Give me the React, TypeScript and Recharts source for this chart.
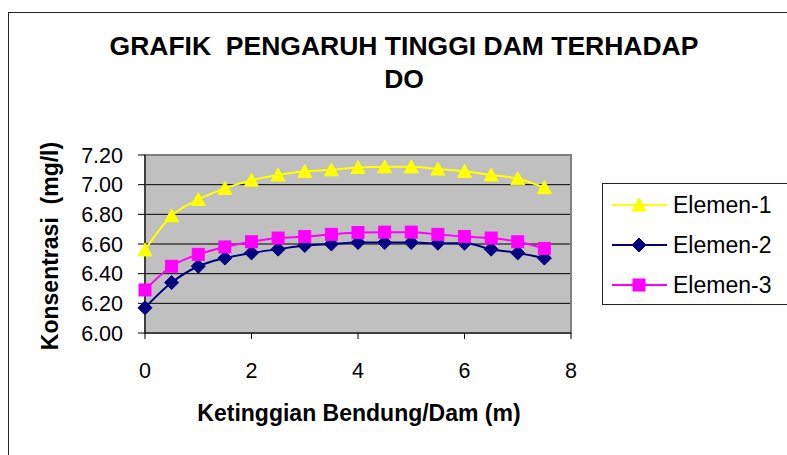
import React from "react";
import { LineChart, Line, XAxis, YAxis, CartesianGrid, Legend, ReferenceArea } from "recharts";

const heights = [0, 0.5, 1, 1.5, 2, 2.5, 3, 3.5, 4, 4.5, 5, 5.5, 6, 6.5, 7, 7.5];
const elemen1 = [6.56, 6.79, 6.9, 6.975, 7.03, 7.065, 7.09, 7.1, 7.115, 7.12, 7.12, 7.105, 7.09, 7.065, 7.04, 6.98];
const elemen2 = [6.17, 6.34, 6.45, 6.505, 6.54, 6.565, 6.59, 6.6, 6.61, 6.61, 6.61, 6.605, 6.605, 6.565, 6.54, 6.505];
const elemen3 = [6.29, 6.45, 6.53, 6.58, 6.615, 6.64, 6.65, 6.665, 6.677, 6.68, 6.68, 6.665, 6.65, 6.64, 6.615, 6.57];
const xTicks = [0, 2, 4, 6, 8];
const yTicks = [6.0, 6.2, 6.4, 6.6, 6.8, 7.0, 7.2];
const seriesNames = ["Elemen-1", "Elemen-2", "Elemen-3"];
const titleLines = ["GRAFIK  PENGARUH TINGGI DAM TERHADAP", "DO"];
const xLabel = "Ketinggian Bendung/Dam (m)";
const yLabel = "Konsentrasi  (mg/l)";

const data = heights.map((h, i) => ({ h, e1: elemen1[i], e2: elemen2[i], e3: elemen3[i] }));

const FONT = '"Liberation Sans", Arial, Helvetica, sans-serif';
const colors = ["#FFFF00", "#000080", "#FF00FF"];

function Marker({ kind, cx, cy, color }: { kind: number; cx: number; cy: number; color: string }) {
  if (kind === 0) {
    return <polygon points={`${cx},${cy - 7} ${cx - 7},${cy + 6} ${cx + 7},${cy + 6}`} fill={color} stroke={color} />;
  }
  if (kind === 1) {
    return <polygon points={`${cx},${cy - 7} ${cx + 7},${cy} ${cx},${cy + 7} ${cx - 7},${cy}`} fill={color} stroke={color} />;
  }
  return <rect x={cx - 6} y={cy - 6} width={12} height={12} fill={color} stroke={color} />;
}

const makeDot = (kind: number) => (props: any) => {
  const { cx, cy, index } = props;
  if (cx == null || cy == null) return <g key={`d${kind}-${index}`} />;
  return <Marker key={`d${kind}-${index}`} kind={kind} cx={cx} cy={cy} color={colors[kind]} />;
};

function LegendBox() {
  return (
    <div
      style={{
        width: 190,
        height: 122,
        border: "1px solid #222",
        background: "#fff",
        boxSizing: "border-box",
        position: "relative",
        fontFamily: FONT,
      }}
    >
      {seriesNames.map((name, i) => (
        <div key={name} style={{ position: "absolute", left: 0, top: 6 + i * 40, height: 30, width: 190 }}>
          <svg width={70} height={30} style={{ position: "absolute", left: 0, top: 0 }}>
            <line x1={9} x2={64} y1={15} y2={15} stroke={colors[i]} strokeWidth={2} />
            <Marker kind={i} cx={36} cy={15} color={colors[i]} />
          </svg>
          <span
            style={{
              position: "absolute",
              left: 70,
              top: 2,
              fontSize: 23,
              lineHeight: "26px",
              color: "#000",
              whiteSpace: "nowrap",
            }}
          >
            {name}
          </span>
        </div>
      ))}
    </div>
  );
}

export default function App() {
  return (
    <div style={{ position: "absolute", left: 0, top: 0, width: 787, height: 455, background: "#fff", overflow: "hidden" }}>
      <div style={{ position: "absolute", left: 8, top: 12, width: 820, height: 480, border: "1px solid #222", boxSizing: "border-box" }} />
      <div style={{ position: "absolute", left: 0, top: 0 }}>
        <LineChart width={787} height={455} data={data} margin={{ top: 155, right: 216, bottom: 62, left: 85 }}>
          <CartesianGrid vertical={false} stroke="#000" fill="#C0C0C0" fillOpacity={1} />
          <ReferenceArea x1={0} x2={8} y1={6} y2={7.2} fill="none" stroke="#808080" strokeWidth={2} ifOverflow="visible" />
          <XAxis
            dataKey="h"
            type="number"
            domain={[0, 8]}
            ticks={xTicks}
            interval={0}
            height={60}
            tickSize={6}
            tickMargin={24}
            stroke="#000"
            tick={{ fill: "#000", fontSize: 21.5, fontFamily: FONT }}
          />
          <YAxis
            type="number"
            domain={[6, 7.2]}
            ticks={yTicks}
            interval={0}
            width={60}
            tickSize={7}
            tickMargin={15}
            stroke="#000"
            tickFormatter={(v: number) => v.toFixed(2)}
            tick={{ fill: "#000", fontSize: 21.5, fontFamily: FONT }}
          />
          <Legend
            layout="horizontal"
            verticalAlign="middle"
            align="center"
            wrapperStyle={{ left: 602, top: 183, width: 190 }}
            content={() => <LegendBox />}
          />
          <Line type="monotone" dataKey="e1" name={seriesNames[0]} stroke={colors[0]} strokeWidth={2} dot={makeDot(0)} isAnimationActive={false} />
          <Line type="monotone" dataKey="e2" name={seriesNames[1]} stroke={colors[1]} strokeWidth={2} dot={makeDot(1)} isAnimationActive={false} />
          <Line type="monotone" dataKey="e3" name={seriesNames[2]} stroke={colors[2]} strokeWidth={2} dot={makeDot(2)} isAnimationActive={false} />
        </LineChart>
      </div>
      <svg width={787} height={455} style={{ position: "absolute", left: 0, top: 0, pointerEvents: "none" }}>
        <text x={404} y={55} textAnchor="middle" fontFamily={FONT} fontWeight="bold" fontSize={26.5} fill="#000" style={{ whiteSpace: "pre" }}>
          {titleLines[0]}
        </text>
        <text x={404} y={88} textAnchor="middle" fontFamily={FONT} fontWeight="bold" fontSize={26.5} fill="#000">
          {titleLines[1]}
        </text>
        <text x={359} y={421} textAnchor="middle" fontFamily={FONT} fontWeight="bold" fontSize={23} fill="#000">
          {xLabel}
        </text>
        <text
          x={0}
          y={0}
          transform="translate(58,246) rotate(-90)"
          textAnchor="middle"
          fontFamily={FONT}
          fontWeight="bold"
          fontSize={23}
          fill="#000"
          style={{ whiteSpace: "pre" }}
        >
          {yLabel}
        </text>
      </svg>
    </div>
  );
}
